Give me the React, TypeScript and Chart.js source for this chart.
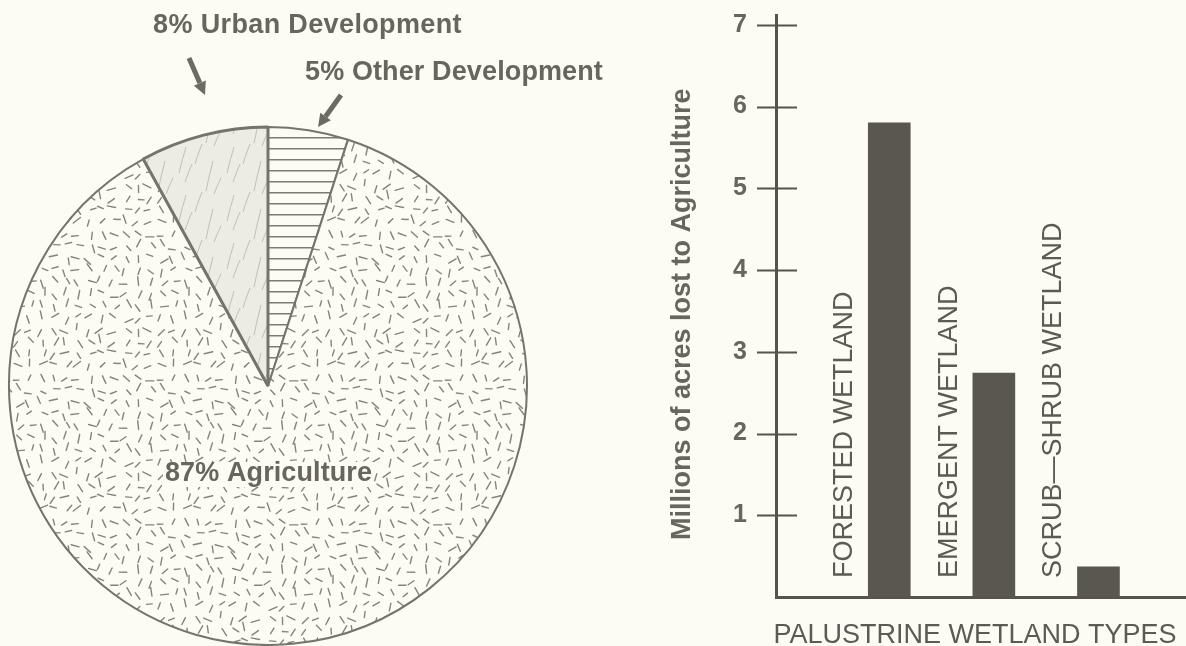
import React, { useEffect, useRef } from 'react';
import { Chart, registerables } from 'chart.js';

Chart.register(...registerables);

// ---------- data ----------
const pieCategories = ['Other Development', 'Agriculture', 'Urban Development'];
const piePercents = [5, 87, 8];

const barCategories = ['FORESTED WETLAND', 'EMERGENT WETLAND', 'SCRUB\u2014SHRUB WETLAND'];
const barValues = [5.8, 2.74, 0.37];
const yTicks = [1, 2, 3, 4, 5, 6, 7];
const yTitle = 'Millions of acres lost to Agriculture';
const xTitle = 'PALUSTRINE WETLAND TYPES';

// ---------- styles ----------
const BG = '#fcfcf4';
const INK = '#67655d';
const DARK = '#56534b';
const FONT = "'Liberation Sans', Arial, Helvetica, sans-serif";

function seeded(seed: number) {
  let s = seed >>> 0;
  return () => {
    s = (Math.imul(s, 1664525) + 1013904223) >>> 0;
    return s / 4294967296;
  };
}

function makeDashPattern(ctx: CanvasRenderingContext2D) {
  const W = 144, H = 144, cell = 12;
  const c = document.createElement('canvas');
  c.width = W; c.height = H;
  const g = c.getContext('2d')!;
  g.fillStyle = BG; g.fillRect(0, 0, W, H);
  g.strokeStyle = 'rgba(120,118,110,0.9)';
  g.lineWidth = 1.4; g.lineCap = 'round';
  const rnd = seeded(20240611);
  for (let cy = 0; cy < H; cy += cell) {
    for (let cx = 0; cx < W; cx += cell) {
      const x = cx + cell / 2 + (rnd() - 0.5) * 7;
      const y = cy + cell / 2 + (rnd() - 0.5) * 7;
      const a = rnd() * Math.PI;
      const L = 5.5 + rnd() * 3.5;
      const dx = (Math.cos(a) * L) / 2, dy = (Math.sin(a) * L) / 2;
      for (const ox of [-W, 0, W]) for (const oy of [-H, 0, H]) {
        g.beginPath();
        g.moveTo(x + ox - dx, y + oy - dy);
        g.lineTo(x + ox + dx, y + oy + dy);
        g.stroke();
      }
    }
  }
  return ctx.createPattern(c, 'repeat')!;
}

function makeUrbanPattern(ctx: CanvasRenderingContext2D) {
  const W = 48, H = 48;
  const c = document.createElement('canvas');
  c.width = W; c.height = H;
  const g = c.getContext('2d')!;
  g.fillStyle = '#ececE4'; g.fillRect(0, 0, W, H);
  g.strokeStyle = 'rgba(140,138,130,0.5)';
  g.lineWidth = 0.9;
  const starts = [3, 14, 22, 35, 41];
  const lens = [20, 30, 16, 26, 18];
  starts.forEach((sx, i) => {
    for (const ox of [-W, 0, W]) for (const oy of [-H, 0, H]) {
      const y0 = ((i * 17) % H) + oy;
      g.beginPath();
      g.moveTo(sx + ox, y0 + lens[i]);
      g.quadraticCurveTo(sx + ox + 3, y0 + lens[i] / 2, sx + ox + 7, y0);
      g.stroke();
    }
  });
  return ctx.createPattern(c, 'repeat')!;
}

function makeHatchPattern(ctx: CanvasRenderingContext2D) {
  const c = document.createElement('canvas');
  c.width = 16; c.height = 11;
  const g = c.getContext('2d')!;
  g.fillStyle = BG; g.fillRect(0, 0, 16, 11);
  g.fillStyle = '#7c7a72';
  g.fillRect(0, 5, 16, 1.5);
  return ctx.createPattern(c, 'repeat')!;
}

function drawArrow(ctx: CanvasRenderingContext2D, x0: number, y0: number, x1: number, y1: number) {
  const ang = Math.atan2(y1 - y0, x1 - x0);
  const head = 13, hw = 6.5;
  const bx = x1 - Math.cos(ang) * head, by = y1 - Math.sin(ang) * head;
  ctx.save();
  ctx.strokeStyle = '#6c6a62';
  ctx.fillStyle = '#6c6a62';
  ctx.lineWidth = 5;
  ctx.lineCap = 'butt';
  ctx.beginPath(); ctx.moveTo(x0, y0); ctx.lineTo(bx, by); ctx.stroke();
  ctx.beginPath();
  ctx.moveTo(x1, y1);
  ctx.lineTo(bx + Math.sin(ang) * hw, by - Math.cos(ang) * hw);
  ctx.lineTo(bx - Math.sin(ang) * hw, by + Math.cos(ang) * hw);
  ctx.closePath(); ctx.fill();
  ctx.restore();
}

function fillFitted(ctx: CanvasRenderingContext2D, text: string, x: number, y: number, width?: number) {
  (ctx as any).letterSpacing = '0px';
  if (width) {
    const w = ctx.measureText(text).width;
    (ctx as any).letterSpacing = ((width - w) / text.length).toFixed(2) + 'px';
  }
  ctx.fillText(text, x, y);
  (ctx as any).letterSpacing = '0px';
}

const pieAnnotations = {
  id: 'pieAnnotations',
  afterDraw(chart: any) {
    const ctx: CanvasRenderingContext2D = chart.ctx;
    ctx.save();
    ctx.fillStyle = INK;
    ctx.textAlign = 'left';
    ctx.textBaseline = 'alphabetic';
    ctx.font = `bold 27px ${FONT}`;
    const lbl = (i: number) => `${piePercents[i]}% ${pieCategories[i]}`;
    fillFitted(ctx, lbl(2), 153, 33, 309);
    fillFitted(ctx, lbl(0), 305, 80, 298);
    const agri = lbl(1);
    const w = 207;
    ctx.fillStyle = BG;
    ctx.fillRect(163, 462, w + 4, 25);
    ctx.fillStyle = INK;
    fillFitted(ctx, agri, 165, 481, w);
    drawArrow(ctx, 189, 58, 205, 95);
    drawArrow(ctx, 341, 95, 318, 127);
    ctx.restore();
  },
};

const barAnnotations = {
  id: 'barAnnotations',
  afterDraw(chart: any) {
    const ctx: CanvasRenderingContext2D = chart.ctx;
    const y = chart.scales.y;
    const left = chart.chartArea.left;
    ctx.save();
    ctx.strokeStyle = DARK;
    ctx.lineWidth = 2;
    y.ticks.forEach((t: any) => {
      const py = Math.round(y.getPixelForValue(t.value)) + 0.5;
      ctx.beginPath(); ctx.moveTo(left - 19, py); ctx.lineTo(left + 21, py); ctx.stroke();
    });
    const base = y.getPixelForValue(0);
    const meta = chart.getDatasetMeta(0);
    ctx.fillStyle = '#5c5a53';
    ctx.font = `27px ${FONT}`;
    ctx.textAlign = 'left';
    ctx.textBaseline = 'alphabetic';
    meta.data.forEach((bar: any, i: number) => {
      ctx.save();
      ctx.translate(bar.x - 37, base - 19);
      ctx.rotate(-Math.PI / 2);
      ctx.fillText(barCategories[i], 0, 0);
      ctx.restore();
    });
    ctx.save();
    ctx.fillStyle = INK;
    ctx.font = `bold 27px ${FONT}`;
    ctx.translate(690, 540);
    ctx.rotate(-Math.PI / 2);
    ctx.fillText(yTitle, 0, 0);
    ctx.restore();
    ctx.fillStyle = '#5c5a53';
    ctx.font = `27px ${FONT}`;
    ctx.textAlign = 'center';
    ctx.fillText(xTitle, 975, 643);
    ctx.restore();
  },
};

export default function App() {
  const pieRef = useRef<HTMLCanvasElement>(null);
  const barRef = useRef<HTMLCanvasElement>(null);

  useEffect(() => {
    const pc = pieRef.current!;
    const bc = barRef.current!;
    const pctx = pc.getContext('2d')!;
    const agriPat = makeDashPattern(pctx);
    const urbanPat = makeUrbanPattern(pctx);
    const hatchPat = makeHatchPattern(pctx);

    const pie = new Chart(pc, {
      type: 'pie',
      data: {
        labels: pieCategories,
        datasets: [
          {
            data: piePercents,
            backgroundColor: [hatchPat, agriPat, urbanPat] as any,
            borderColor: '#75736b',
            borderWidth: [2, 2, 3],
          },
        ],
      },
      options: {
        animation: false,
        responsive: false,
        events: [],
        radius: 259,
        layout: { padding: { left: 0, top: 126, right: 640 - 536, bottom: 0 } },
        plugins: { legend: { display: false }, tooltip: { enabled: false } },
      } as any,
      plugins: [pieAnnotations],
    });

    const bar = new Chart(bc, {
      type: 'bar',
      data: {
        datasets: [
          {
            data: barCategories.map((c, i) => ({ x: i, y: barValues[i] })),
            backgroundColor: '#5a574f',
            borderWidth: 0,
            barThickness: 42,
          },
        ],
      },
      options: {
        animation: false,
        responsive: false,
        events: [],
        layout: { padding: { left: 700, top: 15, right: 0, bottom: 0 } },
        scales: {
          x: {
            type: 'linear',
            min: -0.803,
            max: 2.557,
            ticks: { display: false },
            grid: { display: false, drawTicks: false },
            border: { display: true, color: DARK, width: 3 },
            afterFit: (s: any) => { s.height = 49; s.paddingLeft = 0; s.paddingRight = 0; },
          },
          y: {
            type: 'linear',
            min: 0,
            max: 7.12,
            afterBuildTicks: (s: any) => { s.ticks = yTicks.map((v) => ({ value: v })); },
            ticks: { padding: 29, color: INK, font: { family: FONT, size: 25, weight: 'bold' } },
            grid: { display: false, drawTicks: false },
            border: { display: true, color: DARK, width: 3 },
            afterFit: (s: any) => { s.width = 76; s.paddingTop = 0; s.paddingBottom = 0; },
          },
        },
        plugins: { legend: { display: false }, tooltip: { enabled: false } },
      } as any,
      plugins: [barAnnotations],
    });

    return () => { pie.destroy(); bar.destroy(); };
  }, []);

  return (
    <div style={{ position: 'fixed', left: 0, top: 0, width: 1186, height: 646, background: BG, overflow: 'hidden' }}>
      <canvas ref={barRef} width={1186} height={646} style={{ position: 'absolute', left: 0, top: 0, width: 1186, height: 646 }} />
      <canvas ref={pieRef} width={640} height={646} style={{ position: 'absolute', left: 0, top: 0, width: 640, height: 646 }} />
    </div>
  );
}
